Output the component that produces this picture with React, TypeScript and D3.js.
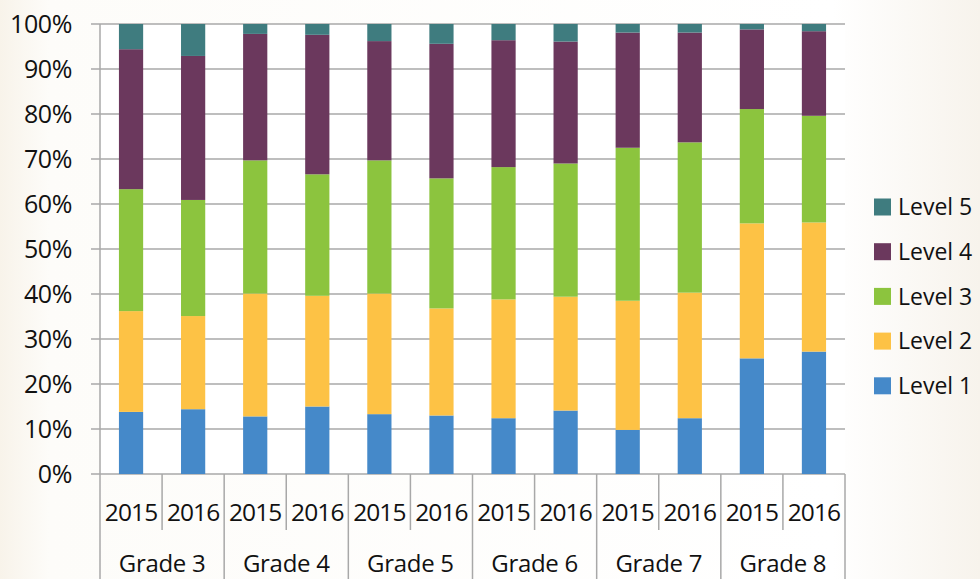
import * as d3 from 'd3';

const grades = ['Grade 3', 'Grade 4', 'Grade 5', 'Grade 6', 'Grade 7', 'Grade 8'];
const years = ['2015', '2016'];
const levels = ['Level 1', 'Level 2', 'Level 3', 'Level 4', 'Level 5'];
const levelColors = ['#4589c9', '#fdc245', '#8cc43e', '#6b385d', '#3f7c7f'];

// percentages per bar, in order grade/year (G3 2015, G3 2016, G4 2015, ...)
const level1 = [13.8, 14.4, 12.8, 15.0, 13.3, 13.0, 12.4, 14.1, 9.8, 12.4, 25.7, 27.2];
const level2 = [22.4, 20.7, 27.3, 24.6, 26.8, 23.8, 26.4, 25.3, 28.7, 27.9, 30.0, 28.7];
const level3 = [27.1, 25.8, 29.6, 27.0, 29.6, 28.9, 29.4, 29.6, 34.0, 33.4, 25.4, 23.7];
const level4 = [31.1, 32.0, 28.1, 31.0, 26.5, 29.9, 28.2, 27.1, 25.6, 24.4, 17.7, 18.8];
const level5 = [5.6, 7.1, 2.2, 2.4, 3.8, 4.4, 3.6, 3.9, 1.9, 1.9, 1.2, 1.6];

const yTicks = [0, 10, 20, 30, 40, 50, 60, 70, 80, 90, 100];

const W = 980;
const H = 579;
const left = 100;
const right = 845;
const top = 24;
const bottom = 474;
const font = '"Open Sans", sans-serif';
const textColor = '#111111';
const gridColor = '#a8a8a8';

export default function App() {
  const series = [level1, level2, level3, level4, level5];
  const rows = grades.flatMap((g, gi) =>
    years.map((yr, yi) => {
      const i = gi * 2 + yi;
      const row: any = { key: `${g}|${yr}`, grade: g, year: yr };
      levels.forEach((lv, li) => (row[lv] = series[li][i]));
      return row;
    })
  );

  const x = d3
    .scaleBand<string>()
    .domain(rows.map((r) => r.key))
    .range([left, right])
    .paddingInner(0.61)
    .paddingOuter(0.305);
  const step = x.step();
  const bw = x.bandwidth();
  const y = d3.scaleLinear().domain([0, 100]).range([bottom, top]);

  const stacked = d3.stack<any>().keys(levels)(rows);

  const bandLeft = (k: string) => (x(k) as number) + bw / 2 - step / 2;

  return (
    <div style={{ position: 'fixed', left: 0, top: 0, width: W, height: H }}>
      <svg width={W} height={H} style={{ display: 'block' }}>
        <defs>
          <linearGradient id="bg" x1="0" x2="1" y1="0" y2="0">
            <stop offset="0" stopColor="#f8f3ea" />
            <stop offset="0.05" stopColor="#fdfcf9" />
            <stop offset="0.85" stopColor="#ffffff" />
            <stop offset="1" stopColor="#f7f3ec" />
          </linearGradient>
        </defs>
        <rect width={W} height={H} fill="url(#bg)" />
        <rect x={left} y={top} width={right - left} height={bottom - top} fill="#ffffff" />

        {/* gridlines */}
        {yTicks.map((t) => (
          <line key={t} x1={91} x2={right} y1={y(t)} y2={y(t)} stroke={gridColor} strokeWidth={1.5} />
        ))}

        {/* stacked bars */}
        {stacked.map((s, si) => (
          <g key={s.key} fill={levelColors[si]}>
            {s.map((d) => (
              <rect
                key={d.data.key}
                x={x(d.data.key)}
                y={y(d[1])}
                width={bw}
                height={y(d[0]) - y(d[1])}
              />
            ))}
          </g>
        ))}

        {/* y axis */}
        <line x1={left} x2={left} y1={top} y2={H} stroke={gridColor} strokeWidth={1.5} />
        {yTicks.map((t) => (
          <text
            key={t}
            x={72}
            y={y(t)}
            dy="0.36em"
            textAnchor="end"
            fontFamily={font}
            fontSize={25}
            letterSpacing={-0.4}
            fill={textColor}
          >
            {t}%
          </text>
        ))}

        {/* x axis separators */}
        {rows.map((r, i) => {
          if (i === 0) return null;
          const bx = bandLeft(r.key);
          const major = i % 2 === 0;
          return (
            <line key={r.key} x1={bx} x2={bx} y1={bottom} y2={major ? H : 530} stroke={gridColor} strokeWidth={1.5} />
          );
        })}
        <line x1={right} x2={right} y1={bottom} y2={H} stroke={gridColor} strokeWidth={1.5} />

        {/* year labels */}
        {rows.map((r) => (
          <text
            key={r.key}
            x={(x(r.key) as number) + bw / 2}
            y={521}
            textAnchor="middle"
            fontFamily={font}
            fontSize={24.5}
            letterSpacing={-0.9}
            fill={textColor}
          >
            {r.year}
          </text>
        ))}

        {/* grade labels */}
        {grades.map((g) => (
          <text
            key={g}
            x={bandLeft(`${g}|2016`)}
            y={572}
            textAnchor="middle"
            fontFamily={font}
            fontSize={24}
            letterSpacing={-0.3}
            fill={textColor}
          >
            {g}
          </text>
        ))}

        {/* legend */}
        {levels
          .slice()
          .reverse()
          .map((lv, i) => {
            const li = levels.indexOf(lv);
            const cy = 207 + i * 44.7;
            return (
              <g key={lv}>
                <rect x={874} y={cy - 8.5} width={17} height={17} fill={levelColors[li]} />
                <text x={898} y={cy} dy="0.36em" fontFamily={font} fontSize={23} fill={textColor}>
                  {lv}
                </text>
              </g>
            );
          })}
      </svg>
    </div>
  );
}
